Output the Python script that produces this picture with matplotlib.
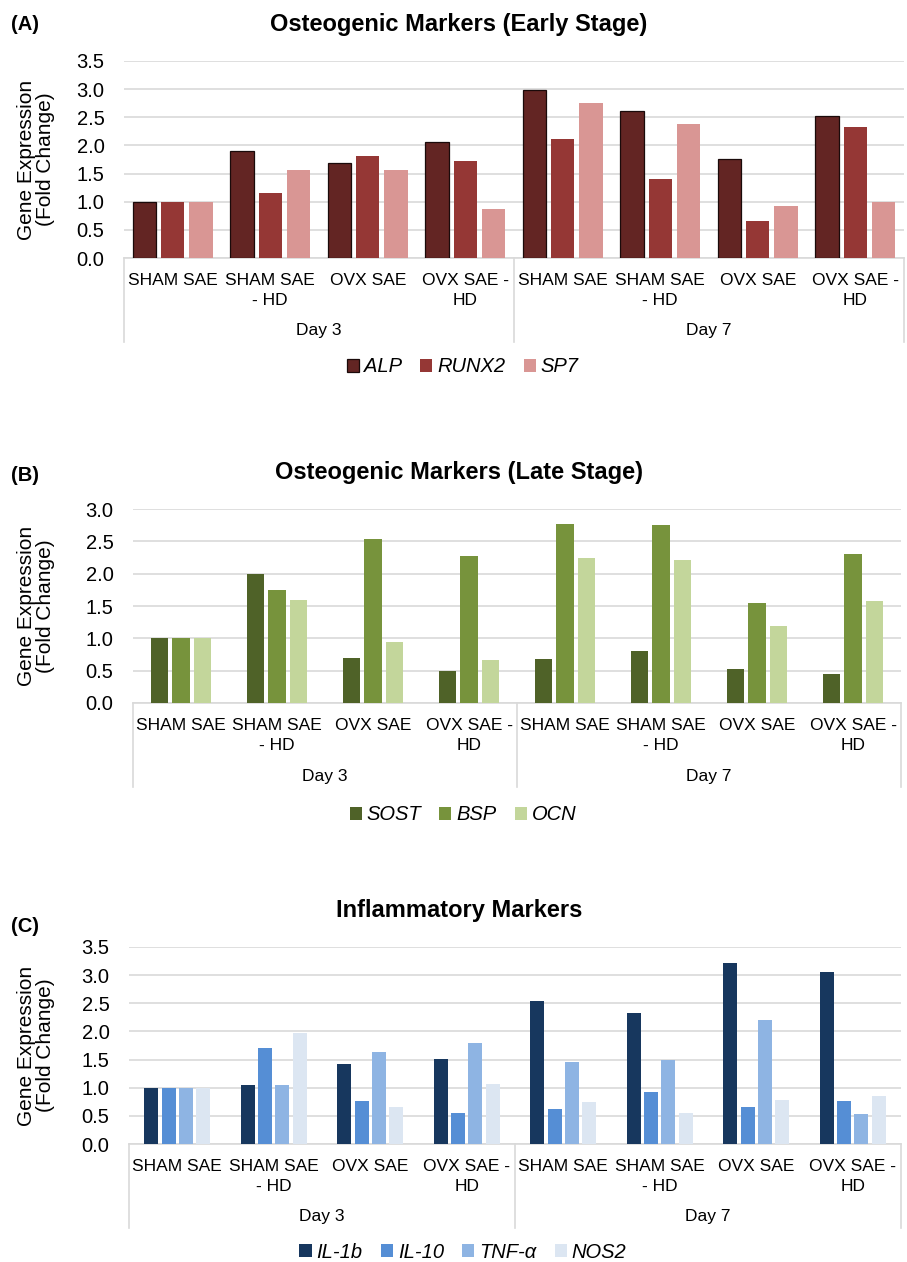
import matplotlib
matplotlib.use('Agg')
import matplotlib.pyplot as plt
import numpy as np

plt.rcParams['font.family'] = ['Liberation Sans', 'DejaVu Sans']

# categories
groups = ['SHAM SAE', 'SHAM SAE\n- HD', 'OVX SAE', 'OVX SAE -\nHD'] * 2
days = ['Day 3', 'Day 7']

# panel A - early osteogenic markers
early_names = ['ALP', 'RUNX2', 'SP7']
alp = [1.00, 1.90, 1.68, 2.06, 2.98, 2.61, 1.76, 2.52]
runx2 = [1.00, 1.16, 1.81, 1.72, 2.11, 1.40, 0.65, 2.33]
sp7 = [1.00, 1.57, 1.56, 0.87, 2.76, 2.38, 0.93, 1.00]

# panel B - late osteogenic markers
late_names = ['SOST', 'BSP', 'OCN']
sost = [1.00, 1.99, 0.69, 0.49, 0.68, 0.81, 0.53, 0.45]
bsp = [1.00, 1.75, 2.54, 2.27, 2.77, 2.75, 1.54, 2.30]
ocn = [1.00, 1.60, 0.95, 0.66, 2.25, 2.21, 1.19, 1.58]

# panel C - inflammatory markers
infl_names = ['IL-1b', 'IL-10', 'TNF-α', 'NOS2']
il1b = [1.00, 1.05, 1.43, 1.51, 2.54, 2.33, 3.22, 3.05]
il10 = [1.00, 1.70, 0.77, 0.55, 0.62, 0.92, 0.66, 0.77]
tnfa = [1.00, 1.04, 1.63, 1.80, 1.45, 1.49, 2.20, 0.53]
nos2 = [1.00, 1.98, 0.65, 1.06, 0.74, 0.55, 0.78, 0.85]

W, H = 907, 1262
fig = plt.figure(figsize=(W / 100, H / 100), dpi=100)


def fx(px):
    return px / W


def fy(py):
    return 1 - py / H


def panel(box, series, names, colors, ymax, width, step, letter, title,
          letter_y, title_y, legend_y, edge=None):
    left, top, right, bottom = box
    ax = fig.add_axes([fx(left), fy(bottom), fx(right - left), (bottom - top) / H])
    x = np.arange(len(groups))
    n = len(series)
    for k, (vals, name, col) in enumerate(zip(series, names, colors)):
        off = (k - (n - 1) / 2) * step
        kw = {}
        if edge is not None and k == 0:
            kw = dict(edgecolor=edge, linewidth=0.9)
        ax.bar(x + off, vals, width, color=col, label=name, zorder=3, **kw)
    ax.set_xlim(-0.5, len(groups) - 0.5)
    ax.set_ylim(0, ymax)
    ticks = np.arange(0, ymax + 0.01, 0.5)
    ax.set_yticks(ticks)
    ax.set_yticklabels(['%.1f' % v for v in ticks], fontsize=14.5)
    ax.grid(axis='y', color='#d9d9d9', linewidth=1.2, zorder=0)
    for s in ['top', 'right', 'left']:
        ax.spines[s].set_visible(False)
    ax.spines['bottom'].set_color('#d9d9d9')
    ax.spines['bottom'].set_linewidth(1.2)
    ax.set_xticks(x)
    ax.set_xticklabels(groups, fontsize=12.5, linespacing=1.4)
    ax.tick_params(axis='both', length=0)
    ax.tick_params(axis='x', pad=11)
    ax.tick_params(axis='y', pad=14)
    hpx = bottom - top
    # day labels and separators
    for i, d in enumerate(days):
        ax.annotate(d, xy=(1.5 + 4 * i, 0), xycoords=('data', 'axes fraction'),
                    xytext=(0, -73 * 0.72), textcoords='offset points',
                    ha='center', va='center', fontsize=12.5)
    for xs in [-0.5, 3.5, 7.5]:
        ax.plot([xs, xs], [0, -84 / hpx], transform=ax.get_xaxis_transform(),
                color='#d9d9d9', linewidth=1.2, clip_on=False)
    fig.text(fx(36), fy((top + bottom) / 2), 'Gene Expression\n(Fold Change)',
             rotation=90, ha='center', va='center', fontsize=15,
             multialignment='center', linespacing=1.0)
    fig.text(fx(11), fy(letter_y), letter, ha='left', va='center',
             fontsize=14.5, fontweight='bold')
    fig.text(fx(459), fy(title_y), title, ha='center', va='center',
             fontsize=17, fontweight='bold')
    fig.legend(*ax.get_legend_handles_labels(), loc='center',
               bbox_to_anchor=(fx(463), fy(legend_y)), ncol=n, frameon=False,
               prop={'style': 'italic', 'size': 14.5}, handlelength=0.6,
               handleheight=0.6, handletextpad=0.25, columnspacing=0.9)
    return ax


panel((124, 61, 904, 258), [alp, runx2, sp7], early_names,
      ['#632523', '#953735', '#D99694'], 3.5, 0.24, 0.29,
      '(A)', 'Osteogenic Markers (Early Stage)', 24, 25, 367, edge='#1a0a0a')

panel((133, 509, 901, 703), [sost, bsp, ocn], late_names,
      ['#4F6228', '#77933C', '#C3D69B'], 3.0, 0.18, 0.225,
      '(B)', 'Osteogenic Markers (Late Stage)', 476, 473, 815)

panel((129, 947, 901, 1144), [il1b, il10, tnfa, nos2], infl_names,
      ['#17375E', '#558ED5', '#8EB4E3', '#DCE6F2'], 3.5, 0.145, 0.18,
      '(C)', 'Inflammatory Markers', 927, 910, 1252)

fig.savefig('out.png', dpi=100)
